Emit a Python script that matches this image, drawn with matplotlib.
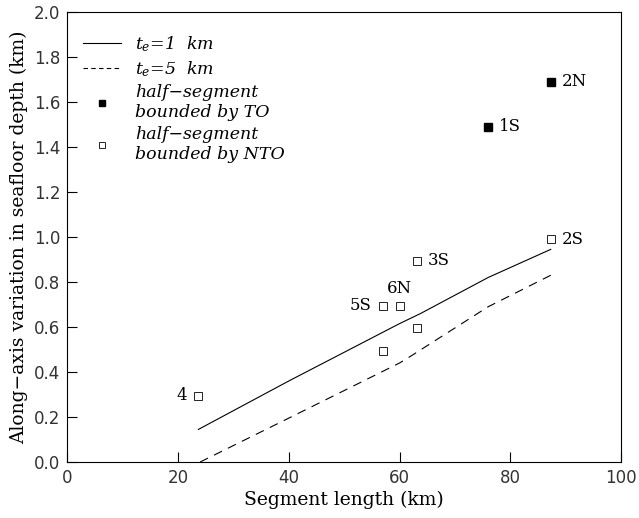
import matplotlib
matplotlib.use("Agg")
import matplotlib.pyplot as plt
from matplotlib.lines import Line2D

# model curves
te1_x = [23.7, 40, 60, 63.8, 76, 87.3]
te1_y = [0.145, 0.36, 0.615, 0.66, 0.82, 0.945]
te5_x = [24.0, 40, 60, 62, 76, 87.3]
te5_y = [0.0, 0.195, 0.44, 0.47, 0.69, 0.83]

# half-segments bounded by transform offsets
to_x = [75.9, 87.3]
to_y = [1.49, 1.69]
to_lab = ["1S", "2N"]

# half-segments bounded by non-transform offsets
nto_x = [23.7, 57, 60, 63.1, 57, 63.1, 87.3]
nto_y = [0.295, 0.695, 0.695, 0.895, 0.495, 0.595, 0.99]
nto_lab = ["4", "5S", "6N", "3S", "", "", "2S"]

xticks = [0, 20, 40, 60, 80, 100]
yticks = [0.0, 0.2, 0.4, 0.6, 0.8, 1.0, 1.2, 1.4, 1.6, 1.8, 2.0]

plt.rcParams['mathtext.fontset'] = 'dejavuserif'
serif = 'DejaVu Serif'

fig = plt.figure(figsize=(6.39, 5.18), dpi=100)
ax = fig.add_axes([0.105, 0.108, 0.867, 0.869])

ax.plot(te1_x, te1_y, color='k', lw=0.8)
ax.plot(te5_x, te5_y, color='k', lw=0.8, dashes=(8, 6))
ax.plot(to_x, to_y, 's', ms=5.5, mfc='k', mec='k')
ax.plot(nto_x, nto_y, 's', ms=5.5, mfc='white', mec='k', mew=0.6)

# point labels
offs = {"4": (-8, 0, 'right', 'center'), "5S": (-8, 0, 'right', 'center'),
        "6N": (0, 6, 'center', 'bottom'), "3S": (8, 0, 'left', 'center'),
        "2S": (8, 0, 'left', 'center'), "1S": (8, 0, 'left', 'center'),
        "2N": (8, 0, 'left', 'center')}
for x, y, t in list(zip(nto_x, nto_y, nto_lab)) + list(zip(to_x, to_y, to_lab)):
    if not t:
        continue
    dx, dy, ha, va = offs[t]
    ax.annotate(t, (x, y), xytext=(dx, dy), textcoords='offset points',
                ha=ha, va=va, fontsize=12, family=serif)

ax.set_xlim(0, 100)
ax.set_ylim(0, 2.0)
ax.set_xticks(xticks)
ax.set_yticks(yticks)
ax.set_xticklabels([str(v) for v in xticks])
ax.set_yticklabels([f"{v:.1f}" for v in yticks])
ax.tick_params(direction='in', length=7, width=0.8, labelsize=12, pad=5)
for lab in ax.get_xticklabels() + ax.get_yticklabels():
    lab.set_color('#333333')
for s in ax.spines.values():
    s.set_linewidth(0.8)

ax.set_xlabel("Segment length (km)", family=serif, fontsize=13.5, labelpad=3)
ax.set_ylabel("Along\u2212axis variation in seafloor depth (km)", family=serif,
              fontsize=13.5, labelpad=4)

handles = [
    Line2D([], [], color='k', lw=0.8),
    Line2D([], [], color='k', lw=0.8, dashes=(4, 3)),
    Line2D([], [], ls='none', marker='s', ms=5, mfc='k', mec='k'),
    Line2D([], [], ls='none', marker='s', ms=5, mfc='white', mec='k', mew=0.6),
]
labels = [
    r"$t_e$=1  km",
    r"$t_e$=5  km",
    "half\u2212segment\nbounded by TO",
    "half\u2212segment\nbounded by NTO",
]
leg = ax.legend(handles, labels, loc='upper left', frameon=False,
                bbox_to_anchor=(0.0, 0.985), handlelength=2.2,
                labelspacing=0.3, handletextpad=0.8,
                prop={'family': serif, 'style': 'italic', 'size': 12.5})

fig.savefig("out.png", dpi=100)
